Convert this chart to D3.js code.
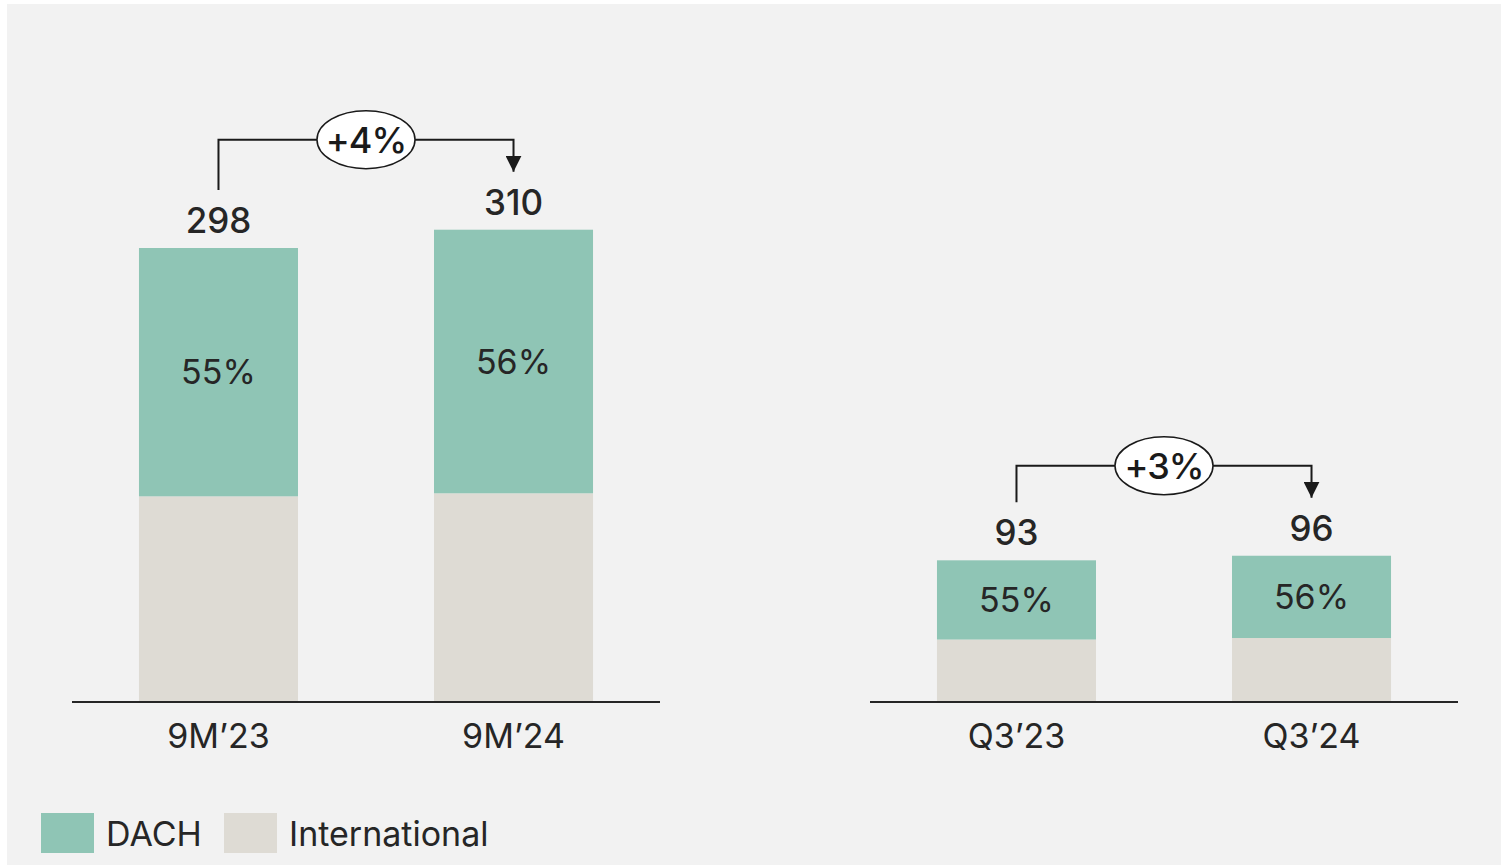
<!DOCTYPE html>
<html>
<head>
<meta charset="utf-8">
<script src="https://cdn.jsdelivr.net/npm/d3@7"></script>
<style>
  body { margin: 0; background: #ffffff; }
  text { font-family: Inter, "Noto Sans", sans-serif; fill: #262626; }
</style>
</head>
<body>
<script>
//chart data
var groups = [["9M’23", "9M’24"], ["Q3’23", "Q3’24"]];
var totals = [[298, 310], [93, 96]];
var dach = [[163, 173], [52, 54]];
var international = [[135, 137], [41, 42]];
var dachShare = [["55%", "56%"], ["55%", "56%"]];
var growth = ["+4%", "+3%"];
var legendLabels = ["DACH", "International"];
var colors = ["#8fc5b5", "#dedbd4"];

var width = 1501, height = 866;

var svg = d3.select("body").append("svg")
    .attr("width", width)
    .attr("height", height);

//panel background
svg.append("rect")
    .attr("x", 7).attr("y", 4)
    .attr("width", width - 7).attr("height", 861)
    .style("fill", "#f2f2f2");

var baseY = 702;
//shared value scale for both panels
var y = d3.scaleLinear()
    .domain([0, 298])
    .range([baseY, 248]);

var panels = [{x0: 72, x1: 660}, {x0: 870, x1: 1458}];

svg.append("defs").append("marker")
    .attr("id", "arrow")
    .attr("viewBox", "0 0 10 10")
    .attr("refX", 10).attr("refY", 5)
    .attr("markerWidth", 16).attr("markerHeight", 16)
    .attr("markerUnits", "userSpaceOnUse")
    .attr("orient", "auto")
    .append("path")
    .attr("d", "M0,0 L10,5 L0,10 Z")
    .style("fill", "#1a1a1a");

panels.forEach(function(p, gi){
    var x = d3.scaleBand()
        .domain(groups[gi])
        .range([p.x0, p.x1])
        .paddingInner(0.461)
        .paddingOuter(0.227);

    var g = svg.append("g");

    groups[gi].forEach(function(cat, i){
        var bx = x(cat), bw = x.bandwidth();
        //international bottom segment
        g.append("rect")
            .attr("x", bx).attr("width", bw)
            .attr("y", y(international[gi][i]))
            .attr("height", baseY - y(international[gi][i]))
            .style("fill", colors[1]);
        //DACH top segment
        g.append("rect")
            .attr("x", bx).attr("width", bw)
            .attr("y", y(international[gi][i] + dach[gi][i]))
            .attr("height", y(international[gi][i]) - y(international[gi][i] + dach[gi][i]))
            .style("fill", colors[0]);
        //share label
        g.append("text")
            .attr("x", bx + bw / 2)
            .attr("y", (y(international[gi][i]) + y(international[gi][i] + dach[gi][i])) / 2 + 12)
            .attr("text-anchor", "middle")
            .style("font-size", "34px")
            .text(dachShare[gi][i]);
        //total label
        g.append("text")
            .attr("x", bx + bw / 2)
            .attr("y", y(totals[gi][i]) - 15)
            .attr("text-anchor", "middle")
            .style("font-size", "35px")
            .style("font-weight", 500)
            .text(totals[gi][i]);
    });

    //axis
    var axis = g.append("g")
        .attr("transform", "translate(0," + baseY + ")")
        .call(d3.axisBottom(x).tickSize(0).tickPadding(22));
    axis.select(".domain")
        .attr("d", "M" + p.x0 + ",0H" + p.x1)
        .style("stroke", "#262626")
        .style("stroke-width", 2);
    axis.selectAll("text")
        .style("font-size", "34px")
        .style("font-family", "Inter, 'Noto Sans', sans-serif")
        .style("fill", "#262626");

    //growth bracket
    var xa = x(groups[gi][0]) + x.bandwidth() / 2,
        xb = x(groups[gi][1]) + x.bandwidth() / 2;
    var topY = y(d3.max(totals[gi])) - 90;
    var startY = y(totals[gi][0]) - 58;
    var endY = y(totals[gi][1]) - 58;
    g.append("path")
        .attr("d", "M" + xa + "," + startY + "V" + topY + "H" + xb + "V" + endY)
        .style("fill", "none")
        .style("stroke", "#1a1a1a")
        .style("stroke-width", 2)
        .attr("marker-end", "url(#arrow)");
    var cx = (xa + xb) / 2;
    g.append("ellipse")
        .attr("cx", cx).attr("cy", topY)
        .attr("rx", 49).attr("ry", 29)
        .style("fill", "#ffffff")
        .style("stroke", "#1a1a1a")
        .style("stroke-width", 1.5);
    g.append("text")
        .attr("x", cx).attr("y", topY + 13)
        .attr("text-anchor", "middle")
        .style("font-size", "36px")
        .style("font-weight", 500)
        .style("letter-spacing", "-1px")
        .style("fill", "#1a1a1a")
        .text(growth[gi]);
});

//legend
var legend = svg.append("g");
var lx = [41, 224];
legendLabels.forEach(function(lbl, i){
    legend.append("rect")
        .attr("x", lx[i]).attr("y", 813)
        .attr("width", 53).attr("height", 40)
        .style("fill", colors[i]);
    legend.append("text")
        .attr("x", lx[i] + 65).attr("y", 846)
        .style("font-size", "34px")
        .text(lbl);
});
</script>
</body>
</html>
